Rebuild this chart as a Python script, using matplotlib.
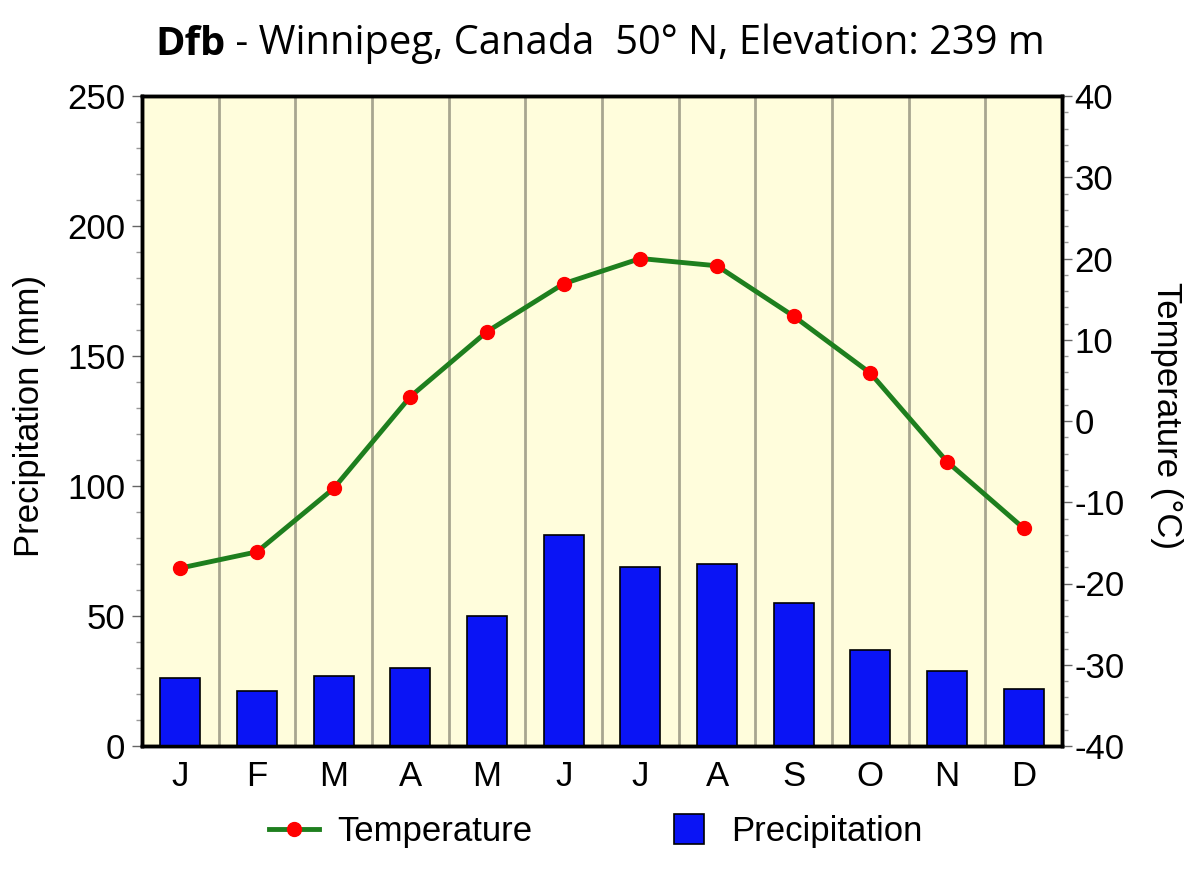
import numpy as np
import matplotlib
matplotlib.use("Agg")
import matplotlib.pyplot as plt
from matplotlib.lines import Line2D
from matplotlib.ticker import MultipleLocator

months = ["J", "F", "M", "A", "M", "J", "J", "A", "S", "O", "N", "D"]
precip = [26, 21, 27, 30, 50, 81, 69, 70, 55, 37, 29, 22]
temp = [-18.1, -16.1, -8.3, 3.0, 11.0, 16.9, 20.0, 19.1, 12.9, 5.9, -5.0, -13.2]
precip_ticks = [0, 50, 100, 150, 200, 250]
temp_ticks = [-40, -30, -20, -10, 0, 10, 20, 30, 40]

plt.rcParams['font.family'] = ['Liberation Sans', 'DejaVu Sans']
plt.rcParams['axes.unicode_minus'] = False

FS = 25
fig = plt.figure(figsize=(12, 8.86), dpi=100)
ax = fig.add_axes([142/1200, 140/886, 920/1200, 650/886])
ax.set_facecolor("#FFFDDC")
x = np.arange(12)

ax.bar(x, precip, width=0.52, color="#0A14F5", edgecolor="black", linewidth=1.2, zorder=3)
ax.set_xlim(-0.5, 11.5)
ax.set_ylim(0, 250)
ax.set_yticks(precip_ticks)
ax.yaxis.set_minor_locator(MultipleLocator(10))
ax.set_xticks(x)
ax.set_xticklabels(months)
ax.set_xticks(np.arange(-0.5, 12, 1), minor=True)
ax.grid(which="minor", axis="x", color="#A8A690", linewidth=2, zorder=1)
ax.tick_params(axis="x", which="both", length=0, labelsize=FS, pad=10)
ax.tick_params(axis="y", which="major", length=7, width=1, labelsize=FS, color="#666666", pad=5)
ax.tick_params(axis="y", which="minor", length=4, width=1, color="#999999")
ax.set_ylabel("Precipitation (mm)", fontsize=FS, va="center")
ax.yaxis.set_label_coords((30 - 142) / 920, 0.508)
for s in ax.spines.values():
    s.set_linewidth(2.5)
    s.set_color("black")

ax2 = ax.twinx()
ax2.plot(x, temp, color="#1E7F1E", linewidth=3.5, marker="o", markersize=10,
         markerfacecolor="#FF0000", markeredgecolor="#FF0000", zorder=5)
ax2.set_ylim(-40, 40)
ax2.set_yticks(temp_ticks)
ax2.yaxis.set_minor_locator(MultipleLocator(2))
ax2.tick_params(axis="y", which="major", length=7, width=1, labelsize=FS, color="#666666", pad=2)
ax2.tick_params(axis="y", which="minor", length=4, width=1, color="#999999")
ax2.set_ylabel("Temperature (°C)", fontsize=FS, rotation=270, va="center")
ax2.yaxis.set_label_coords((1166 - 142) / 920, 0.508)
for s in ax2.spines.values():
    s.set_linewidth(2.5)
    s.set_color("black")

t1 = fig.text(155/1200, 1 - 55/886, "Dfb", fontsize=28.7, fontweight="bold",
              family=["Open Sans", "DejaVu Sans"], va="baseline", ha="left")
fig.canvas.draw()
ax.annotate(" - Winnipeg, Canada  50° N, Elevation: 239 m", xy=(1, 0), xycoords=t1,
            va="bottom", ha="left", fontsize=28.7, family=["Open Sans", "DejaVu Sans"],
            annotation_clip=False)

h1 = Line2D([], [], color="#1E7F1E", linewidth=3.5, marker="o", markersize=10,
            markerfacecolor="#FF0000", markeredgecolor="#FF0000")
h2 = Line2D([], [], linestyle="none", marker="s", markersize=21,
            markerfacecolor="#0A14F5", markeredgecolor="black", markeredgewidth=1.2)
fig.legend([h1, h2], ["Temperature", "Precipitation"], ncol=2, loc="center",
           bbox_to_anchor=(596/1200, 1 - 832/886), frameon=False, fontsize=FS,
           columnspacing=3.8, handlelength=1.45, handletextpad=0.5)

fig.savefig("out.png", dpi=100)
